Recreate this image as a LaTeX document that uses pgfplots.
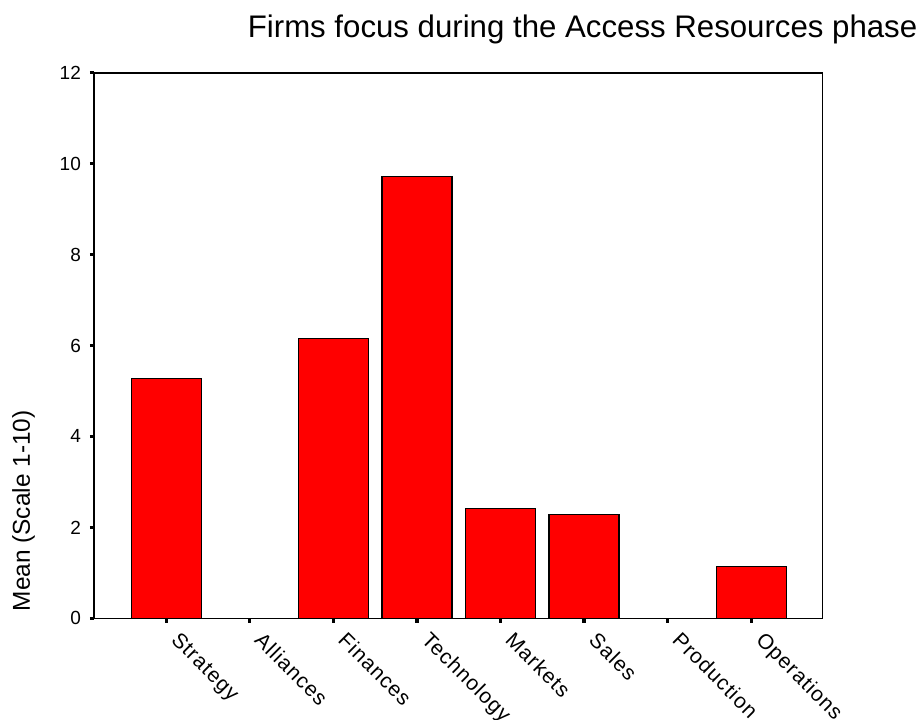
\documentclass[border=0pt]{standalone}
\usepackage{fontspec}
\setmainfont{Liberation Sans}
\newfontfamily\lblfont[LetterSpace=5]{Liberation Sans}
\usepackage{pgfplots}
\pgfplotsset{compat=1.18}
\begin{document}
\begin{tikzpicture}
\begin{axis}[
  name=ax,
  scale only axis,
  width=364pt, height=272.8pt,
  xmin=-0.86, xmax=7.85, ymin=0, ymax=12,
  ytick={0,2,...,12},
  xtick={0,...,7},
  xticklabels={Strategy,Alliances,Finances,Technology,Markets,Sales,Production,Operations},
  tick pos=left,
  tick align=outside,
  major tick length=2.2pt,
  every tick/.style={black, line width=1.6pt},
  axis line style={line width=0.8pt},
  /pgf/number format/assume math mode=true,
  yticklabel style={font=\fontsize{9.5}{10}\selectfont, xshift=-1pt},
  xticklabel style={font=\lblfont\fontsize{10.5}{11}\selectfont, rotate=-45, anchor=north west, xshift=4.5pt, yshift=5.8pt},
  ylabel={Mean (Scale 1-10)},
  ylabel style={font=\fontsize{12.2}{13}\selectfont, at={(axis description cs:-0.097,0.197)}, anchor=center, rotate=0},
  every axis title shift=0pt,
  title={Firms focus during the Access Resources phase},
  title style={font=\fontsize{15.6}{17}\selectfont, at={(axis description cs:1,1)}, anchor=base east, xshift=51pt, yshift=17.5pt},
]
\addplot[ybar, bar width=35pt, fill=red, draw=black, line width=0.6pt]
  coordinates {(0,5.27) (1,0) (2,6.15) (3,9.72) (4,2.41) (5,2.29) (6,0) (7,1.14)};
\end{axis}
\pgfresetboundingbox
\path[use as bounding box] ([xshift=-47.15pt,yshift=-50.35pt]ax.south west) rectangle ([xshift=47.85pt,yshift=36.35pt]ax.north east);
\end{tikzpicture}
\end{document}
